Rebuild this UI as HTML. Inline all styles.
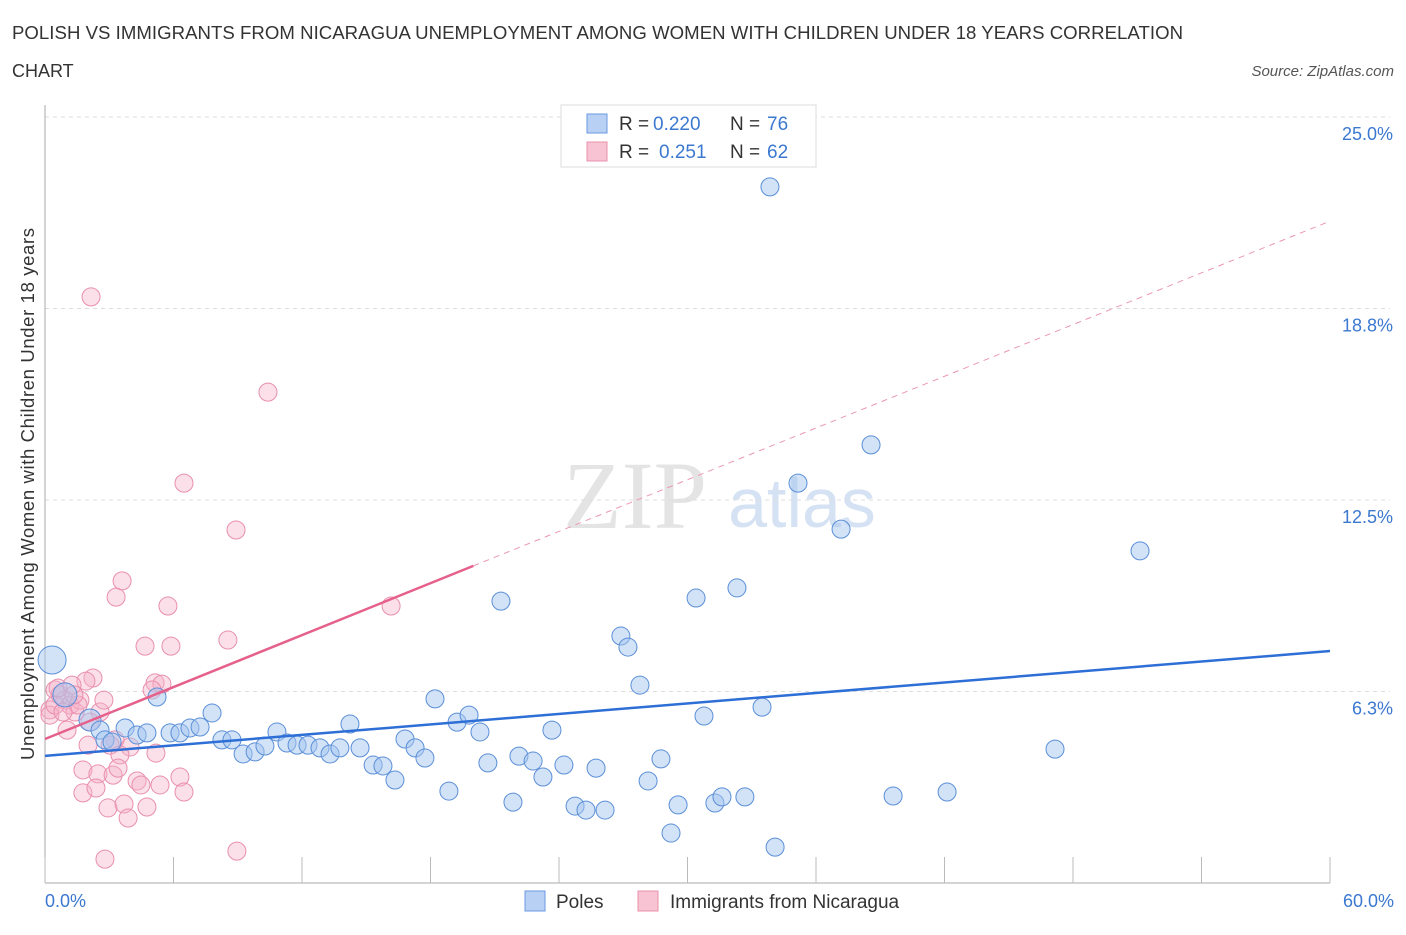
<!DOCTYPE html>
<html><head><meta charset="utf-8"><style>
body{margin:0;background:#fff;font-family:"Liberation Sans",sans-serif;}
</style></head><body>
<svg id="c" width="1406" height="930" xmlns="http://www.w3.org/2000/svg">
<text x="12" y="39" font-size="18.6" fill="#333" textLength="1171">POLISH VS IMMIGRANTS FROM NICARAGUA UNEMPLOYMENT AMONG WOMEN WITH CHILDREN UNDER 18 YEARS CORRELATION</text>
<text x="12" y="77" font-size="18" fill="#333">CHART</text>
<text x="1394" y="76" font-size="15" fill="#555" font-style="italic" text-anchor="end">Source: ZipAtlas.com</text>
<text x="635" y="528" font-size="96" fill="#e4e4e4" font-family="Liberation Serif,serif" text-anchor="middle">ZIP</text>
<text x="802" y="527" font-size="70" fill="#d5e2f3" text-anchor="middle">atlas</text>
<g id="grid"></g>
<g id="axes"></g>
<g id="pts"></g>
<g id="lines"></g>
<text transform="translate(34,494) rotate(-90)" font-size="18.5" fill="#333" text-anchor="middle" textLength="532">Unemployment Among Women with Children Under 18 years</text>
<text x="45" y="907" font-size="18" fill="#3b78d0">0.0%</text>
<text x="1394" y="907" font-size="18" fill="#3b78d0" text-anchor="end">60.0%</text>
<g>
<rect x="561" y="105" width="255" height="62" fill="#fff" stroke="#ddd"/>
<rect x="587" y="114" width="20" height="19" fill="#b8d0f4" stroke="#6a9ae0"/>
<rect x="587" y="142" width="20" height="19" fill="#f8c4d4" stroke="#e890aa"/>
<text x="619" y="130" font-size="19" fill="#333">R =</text>
<text x="653" y="130" font-size="19" fill="#3b78d0">0.220</text>
<text x="730" y="130" font-size="19" fill="#333">N =</text>
<text x="767" y="130" font-size="19" fill="#3b78d0">76</text>
<text x="619" y="158" font-size="19" fill="#333">R =</text>
<text x="659" y="158" font-size="19" fill="#3b78d0">0.251</text>
<text x="730" y="158" font-size="19" fill="#333">N =</text>
<text x="767" y="158" font-size="19" fill="#3b78d0">62</text>
</g>
<g>
<rect x="525" y="891" width="20" height="20" fill="#b8d0f4" stroke="#6a9ae0"/>
<text x="556" y="908" font-size="19" fill="#333">Poles</text>
<rect x="638" y="891" width="20" height="20" fill="#f8c4d4" stroke="#e890aa"/>
<text x="670" y="908" font-size="19" fill="#333">Immigrants from Nicaragua</text>
</g>
</svg>
<script>
const yTicks=[6.25,12.5,18.75,25];
const yTickLabels=["6.3%","12.5%","18.8%","25.0%"];
const bluePx=[[52,660,14],[65,695,12],[90,720,11],[100,730],[105,740],[112,742],[125,728],[137,735],[147,733],[157,697],[170,733],[180,733],[190,728],[200,727],[212,713],[222,740],[232,740],[243,754],[255,752],[265,746],[277,732],[287,743],[297,745],[308,745],[320,748],[330,754],[340,748],[350,724],[360,748],[373,765],[383,766],[395,780],[405,739],[415,748],[425,758],[435,699],[449,791],[457,722],[469,715],[480,732],[488,763],[501,601],[513,802],[519,756],[533,761],[543,777],[552,730],[564,765],[575,806],[586,810],[596,768],[605,810],[621,636],[628,647],[640,685],[648,781],[661,759],[671,833],[678,805],[696,598],[704,716],[715,803],[722,797],[737,588],[745,797],[762,707],[770,187],[775,847],[798,483],[841,529],[871,445],[893,796],[947,792],[1055,749],[1140,551]];
const pinkPx=[[91,297],[268,392],[184,483],[236,530],[122,581],[116,597],[168,606],[391,606],[145,646],[171,646],[228,640],[93,678],[86,681],[55,690],[60,695],[65,700],[70,705],[75,712],[50,710],[58,688],[72,685],[80,700],[155,683],[162,684],[152,690],[78,705],[67,730],[88,745],[115,740],[110,745],[130,747],[120,755],[156,753],[83,770],[98,774],[113,775],[118,768],[137,781],[160,785],[141,785],[180,777],[83,793],[96,788],[184,792],[108,808],[124,804],[147,807],[128,818],[105,859],[237,851],[50,715],[55,705],[63,712],[100,712],[104,700],[90,722],[74,695]];
const X0=45,X1=1330,Y0=883,YT=117;
const sx=v=>X0+v/60*(X1-X0), sy=v=>Y0-v/25*(Y0-YT);
const ix=p=>(p-X0)/(X1-X0)*60, iy=p=>(Y0-p)/(Y0-YT)*25;
const poleX=bluePx.map(p=>+ix(p[0]).toFixed(2)), poleY=bluePx.map(p=>+iy(p[1]).toFixed(2));
const nicX=pinkPx.map(p=>+ix(p[0]).toFixed(2)), nicY=pinkPx.map(p=>+iy(p[1]).toFixed(2));
const blueTrend=[[0,4.15],[60,7.57]];
const pinkTrend=[[0,4.7],[20,10.35],[60,21.6]];
const NS="http://www.w3.org/2000/svg";
function mk(t,a,parent){const e=document.createElementNS(NS,t);for(const k in a)e.setAttribute(k,a[k]);parent.appendChild(e);return e;}
const grid=document.getElementById('grid'),axes=document.getElementById('axes'),pts=document.getElementById('pts'),lines=document.getElementById('lines');
yTicks.forEach((t,i)=>{
 const g=mk('line',{x1:X0,x2:X1+60,y1:sy(t),y2:sy(t),stroke:'#ddd','stroke-dasharray':'4,4'},grid);
 
 
 const l=mk('text',{x:1393,y:sy(t)+23,'font-size':18,fill:'#3b78d0','text-anchor':'end'},grid);
 l.textContent=yTickLabels[i];
 
 
});
const ya=mk('line',{x1:X0,x2:X0,y1:105,y2:Y0,stroke:'#aaa'},axes);


const xa=mk('line',{x1:X0,x2:X1,y1:Y0,y2:Y0,stroke:'#aaa'},axes);


for(let i=0;i<=10;i++){const t=mk('line',{x1:sx(i*6),x2:sx(i*6),y1:Y0,y2:Y0-26,stroke:'#bbb'},axes);
 
 }
nicX.forEach((x,i)=>{const c=mk('circle',{cx:sx(x),cy:sy(nicY[i]),r:9,fill:'rgba(246,178,200,0.4)',stroke:'#e98fad','stroke-width':1},pts);
 
 });
poleX.forEach((x,i)=>{const c=mk('circle',{cx:sx(x),cy:sy(poleY[i]),r:bluePx[i][2]||9,fill:'rgba(166,198,240,0.5)',stroke:'#5b8fd8','stroke-width':1},pts);
 
 });
const bl=mk('line',{x1:sx(blueTrend[0][0]),y1:sy(blueTrend[0][1]),x2:sx(blueTrend[1][0]),y2:sy(blueTrend[1][1]),stroke:'#2d6fd6','stroke-width':2.5},lines);


const pl=mk('line',{x1:sx(pinkTrend[0][0]),y1:sy(pinkTrend[0][1]),x2:sx(pinkTrend[1][0]),y2:sy(pinkTrend[1][1]),stroke:'#e5608a','stroke-width':2.5},lines);


const pd=mk('line',{x1:sx(pinkTrend[1][0]),y1:sy(pinkTrend[1][1]),x2:sx(pinkTrend[2][0]),y2:sy(pinkTrend[2][1]),stroke:'#eb98b2','stroke-width':1,'stroke-dasharray':'6,5'},lines);


</script>
</body></html>
